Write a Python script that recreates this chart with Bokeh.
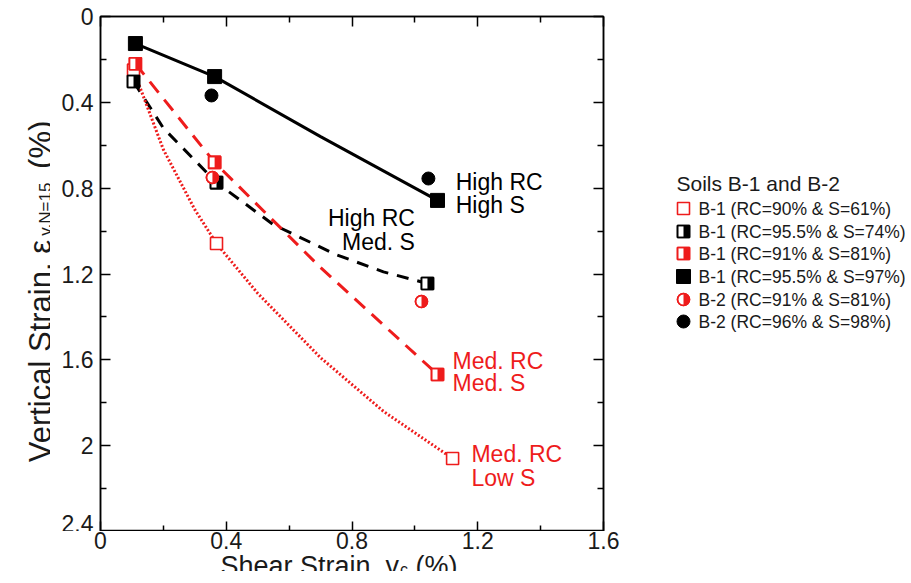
import math
from bokeh.plotting import figure
from bokeh.models import Range1d, LinearAxis, FixedTicker
from bokeh.layouts import row, column
from bokeh.embed import file_html
from bokeh.resources import INLINE
from bokeh.core.properties import value

FONT = "Liberation Sans"
RED = "#ee1c1c"
BLACK = "#000000"
TXT = "#1a1a1a"

# ---------------- axes ----------------
x_ticks = [0, 0.4, 0.8, 1.2, 1.6]
x_minor = [0.2, 0.6, 1.0, 1.4]
x_tick_labels = ["0", "0.4", "0.8", "1.2", "1.6"]
y_ticks = [0, 0.4, 0.8, 1.2, 1.6, 2.0, 2.4]
y_minor = [0.2, 0.6, 1.0, 1.4, 1.8, 2.2]
y_tick_labels = ["0", "0.4", "0.8", "1.2", "1.6", "2", "2.4"]

# ---------------- data (shear strain %, vertical strain %) ----------------
b1_rc90_s61_x = [0.105, 0.369, 1.12]
b1_rc90_s61_y = [0.25, 1.058, 2.06]
b1_rc955_s74_x = [0.105, 0.369, 1.04]
b1_rc955_s74_y = [0.303, 0.774, 1.244]
b1_rc91_s81_x = [0.111, 0.363, 1.072]
b1_rc91_s81_y = [0.22, 0.68, 1.668]
b1_rc955_s97_x = [0.111, 0.363, 1.072]
b1_rc955_s97_y = [0.126, 0.28, 0.857]
b2_rc91_s81_x = [0.356, 1.021]
b2_rc91_s81_y = [0.75, 1.328]
b2_rc96_s98_x = [0.353, 1.043]
b2_rc96_s98_y = [0.368, 0.755]

# trend curves
trend_high_high_x = [0.111, 0.363, 0.7, 1.072]
trend_high_high_y = [0.126, 0.28, 0.56, 0.857]
trend_high_med_x = [0.105, 0.2, 0.369, 0.55, 0.75, 0.9, 1.04]
trend_high_med_y = [0.303, 0.52, 0.774, 0.97, 1.11, 1.19, 1.244]
trend_med_med_x = [0.111, 0.363, 0.7, 1.072]
trend_med_med_y = [0.22, 0.68, 1.17, 1.668]
trend_med_low_x = [0.105, 0.2, 0.3, 0.369, 0.5, 0.7, 0.9, 1.12]
trend_med_low_y = [0.25, 0.62, 0.9, 1.058, 1.29, 1.59, 1.84, 2.06]

legend_title = "Soils B-1 and B-2"
legend_labels = ["B-1 (RC=90% & S=61%)", "B-1 (RC=95.5% & S=74%)",
                 "B-1 (RC=91% & S=81%)", "B-1 (RC=95.5% & S=97%)",
                 "B-2 (RC=91% & S=81%)", "B-2 (RC=96% & S=98%)"]

# ---------------- geometry ----------------
FRAME_W, FRAME_H = 503, 515
BT, BB = 16, 0             # top / bottom borders shared by the row
YT_W = 50                  # width of the y-title strip
P_LEFT = 50                # left border of the main plot
X0_PX = YT_W + P_LEFT      # page x of the frame's left edge
XMAX, YMAX = 1.6, 2.4
PX_X = FRAME_W / XMAX
PX_Y = FRAME_H / YMAX
MS = 12

p = figure(frame_width=FRAME_W, frame_height=FRAME_H, x_range=Range1d(0, XMAX),
           y_range=Range1d(YMAX, 0), output_backend="svg", toolbar_location=None, title=None,
           min_border_left=P_LEFT, min_border_right=10, min_border_top=BT, min_border_bottom=BB)
p.grid.visible = False
p.outline_line_color = BLACK
p.outline_line_width = 1.5
p.add_layout(LinearAxis(), "above")
p.add_layout(LinearAxis(), "right")

for ax in p.xaxis:
    ax.ticker = FixedTicker(ticks=x_ticks, minor_ticks=x_minor)
for ax in p.yaxis:
    ax.ticker = FixedTicker(ticks=y_ticks, minor_ticks=y_minor)
for ax in list(p.xaxis) + list(p.yaxis):
    ax.axis_line_color = BLACK
    ax.axis_line_width = 1.5
    ax.major_tick_in = 10
    ax.major_tick_out = 0
    ax.minor_tick_in = 6
    ax.minor_tick_out = 0
    ax.major_tick_line_width = 1.5
    ax.minor_tick_line_width = 1.5
    ax.major_tick_line_color = BLACK
    ax.minor_tick_line_color = BLACK
    ax.major_label_text_font = FONT
    ax.major_label_text_font_size = "23px"
    ax.major_label_text_color = TXT

p.left[0].major_label_overrides = dict(zip(y_ticks, y_tick_labels))
p.left[0].major_label_standoff = 7
# other frame edges carry ticks only (x tick labels are drawn in the strip below, on the same scale)
for ax in (p.below[0], p.above[0]):
    ax.major_label_overrides = {t: "" for t in x_ticks}
    ax.major_label_text_font_size = "0px"
    ax.major_label_standoff = 0
p.right[0].major_label_overrides = {t: "" for t in y_ticks}
p.right[0].major_label_text_font_size = "0px"

# trend lines
p.line(trend_high_high_x, trend_high_high_y, line_color=BLACK, line_width=3)
p.line(trend_high_med_x, trend_high_med_y, line_color=BLACK, line_width=3, line_dash="12 9")
p.line(trend_med_med_x, trend_med_med_y, line_color=RED, line_width=3, line_dash="14 9")
p.line(trend_med_low_x, trend_med_low_y, line_color=RED, line_width=3, line_dash="2 2")

hw = (MS / 2) / PX_X
hh = (MS / 2) / PX_Y


def half_square(fig, xs, ys, color, hwx, hhy, size):
    fig.scatter(xs, ys, marker="square", size=size, fill_color="white", line_color=color, line_width=1.6)
    fig.quad(left=xs, right=[x + hwx for x in xs], top=[y - hhy for y in ys],
             bottom=[y + hhy for y in ys], fill_color=color, line_color=None)
    fig.scatter(xs, ys, marker="square", size=size, fill_color=None, line_color=color, line_width=1.6)


def half_circle(fig, xs, ys, color, size):
    fig.scatter(xs, ys, marker="circle", size=size, fill_color="white", line_color=color, line_width=1.6)
    fig.wedge(xs, ys, radius=size / 2, radius_units="screen", start_angle=-math.pi / 2,
              end_angle=math.pi / 2, fill_color=color, line_color=None)
    fig.scatter(xs, ys, marker="circle", size=size, fill_color=None, line_color=color, line_width=1.6)


# markers
p.scatter(b1_rc90_s61_x, b1_rc90_s61_y, marker="square", size=MS, fill_color="white",
          line_color=RED, line_width=1.6)
half_square(p, b1_rc955_s74_x, b1_rc955_s74_y, BLACK, hw, hh, MS)
half_square(p, b1_rc91_s81_x, b1_rc91_s81_y, RED, hw, hh, MS)
p.scatter(b1_rc955_s97_x, b1_rc955_s97_y, marker="square", size=MS + 2, fill_color=BLACK, line_color=BLACK)
half_circle(p, b2_rc91_s81_x, b2_rc91_s81_y, RED, MS)
p.scatter(b2_rc96_s98_x, b2_rc96_s98_y, marker="circle", size=MS + 1, fill_color=BLACK, line_color=BLACK)

# curve annotations (inside the frame)
ann_x = [1.13, 1.13, 1.0, 1.0, 1.12, 1.12, 1.18, 1.18]
ann_y = [0.77, 0.88, 0.94, 1.05, 1.605, 1.71, 2.04, 2.15]
ann_text = ["High RC", "High S", "High RC", "Med. S", "Med. RC", "Med. S", "Med. RC", "Low S"]
ann_color = [BLACK, BLACK, BLACK, BLACK, RED, RED, RED, RED]
ann_align = ["left", "left", "right", "right", "left", "left", "left", "left"]
p.text(x=ann_x, y=ann_y, text=ann_text, text_color=ann_color, text_align=ann_align,
       text_font=value(FONT), text_font_size="23px", text_baseline="middle")

# ---------------- y-title strip ----------------
TFY, SFY = 31, 17
W_MAIN_Y = 7.28 * TFY        # "Vertical Strain, ε"
W_SUB_Y = 3.196 * SFY        # "v,N=15"
W_GAP = 0.4 * TFY            # space
W_TAIL = 1.555 * TFY         # "(%)"
yt = figure(width=YT_W, frame_height=FRAME_H, x_range=Range1d(0, YT_W), y_range=Range1d(0, FRAME_H),
            x_axis_type=None, y_axis_type=None, output_backend="svg", toolbar_location=None,
            title=None, min_border_left=0, min_border_right=0, min_border_top=BT, min_border_bottom=BB)
yt.grid.visible = False
yt.outline_line_color = None
y_center = FRAME_H / 2 - 18
y_start = y_center - (W_MAIN_Y + W_SUB_Y + W_GAP + W_TAIL) / 2
yt.text(x=[40], y=[y_start], text=["Vertical Strain, ε"], angle=math.pi / 2,
        text_font=value(FONT), text_font_size=f"{TFY}px", text_align="left",
        text_baseline="alphabetic", text_color=TXT)
yt.text(x=[45], y=[y_start + W_MAIN_Y + 1], text=["v,N=15"], angle=math.pi / 2,
        text_font=value(FONT), text_font_size=f"{SFY}px", text_align="left",
        text_baseline="alphabetic", text_color=TXT)
yt.text(x=[40], y=[y_start + W_MAIN_Y + 1 + W_SUB_Y + W_GAP], text=["(%)"], angle=math.pi / 2,
        text_font=value(FONT), text_font_size=f"{TFY}px", text_align="left",
        text_baseline="alphabetic", text_color=TXT)

# ---------------- legend panel ----------------
P_W = P_LEFT + FRAME_W + 10
LEG_W = 905 - YT_W - P_W
x0 = YT_W + P_W
leg = figure(width=LEG_W, frame_height=FRAME_H, x_range=Range1d(x0, x0 + LEG_W),
             y_range=Range1d(BT + FRAME_H, BT), x_axis_type=None, y_axis_type=None,
             output_backend="svg", toolbar_location=None, title=None,
             min_border_left=0, min_border_right=0, min_border_top=BT, min_border_bottom=BB)
leg.grid.visible = False
leg.outline_line_color = None

row_y = [208, 231, 253, 276, 299, 321]
mk_x = 683
txt_x = 698
leg.text(x=[676], y=[183], text=[legend_title], text_font=value(FONT), text_font_size="21px",
         text_baseline="middle", text_color=TXT)
leg.text(x=[txt_x] * len(legend_labels), y=row_y, text=legend_labels, text_font=value(FONT),
         text_font_size="17.5px", text_baseline="middle", text_color=TXT)
leg.scatter([mk_x], [row_y[0]], marker="square", size=MS, fill_color="white", line_color=RED, line_width=1.6)
half_square(leg, [mk_x], [row_y[1]], BLACK, MS / 2, MS / 2, MS)
half_square(leg, [mk_x], [row_y[2]], RED, MS / 2, MS / 2, MS)
leg.scatter([mk_x], [row_y[3]], marker="square", size=MS + 2, fill_color=BLACK, line_color=BLACK)
half_circle(leg, [mk_x], [row_y[4]], RED, MS)
leg.scatter([mk_x], [row_y[5]], marker="circle", size=MS + 1, fill_color=BLACK, line_color=BLACK)

# ---------------- x tick labels + x title strip (same x scale as the plot) ----------------
TFX, SFX = 27, 16
XT_H = 40
W_MAIN_X = 6.614 * TFX       # "Shear Strain, γ"
W_SUB_X = 0.5 * SFX          # "c"
xt = figure(width=905, height=XT_H,
            x_range=Range1d(-X0_PX / PX_X, (905 - X0_PX) / PX_X), y_range=Range1d(XT_H, 0),
            x_axis_type=None, y_axis_type=None, output_backend="svg", toolbar_location=None,
            title=None, min_border=0)
xt.grid.visible = False
xt.outline_line_color = None
xt.text(x=x_ticks, y=[9] * len(x_ticks), text=x_tick_labels, text_font=value(FONT),
        text_font_size="23px", text_align="center", text_baseline="middle", text_color=TXT)
x_start = (220 - X0_PX) / PX_X
xt.text(x=[x_start], y=[34], text=["Shear Strain, γ"], text_font=value(FONT),
        text_font_size=f"{TFX}px", text_align="left", text_baseline="alphabetic", text_color=TXT)
xt.text(x=[x_start + (W_MAIN_X + 1) / PX_X], y=[38], text=["c"], text_font=value(FONT),
        text_font_size=f"{SFX}px", text_align="left", text_baseline="alphabetic", text_color=TXT)
xt.text(x=[x_start + (W_MAIN_X + 1 + W_SUB_X + 0.278 * TFX) / PX_X], y=[34], text=["(%)"],
        text_font=value(FONT), text_font_size=f"{TFX}px", text_align="left",
        text_baseline="alphabetic", text_color=TXT)

layout = column(row(yt, p, leg), xt)
open("out.html", "w").write(file_html(layout, INLINE))
